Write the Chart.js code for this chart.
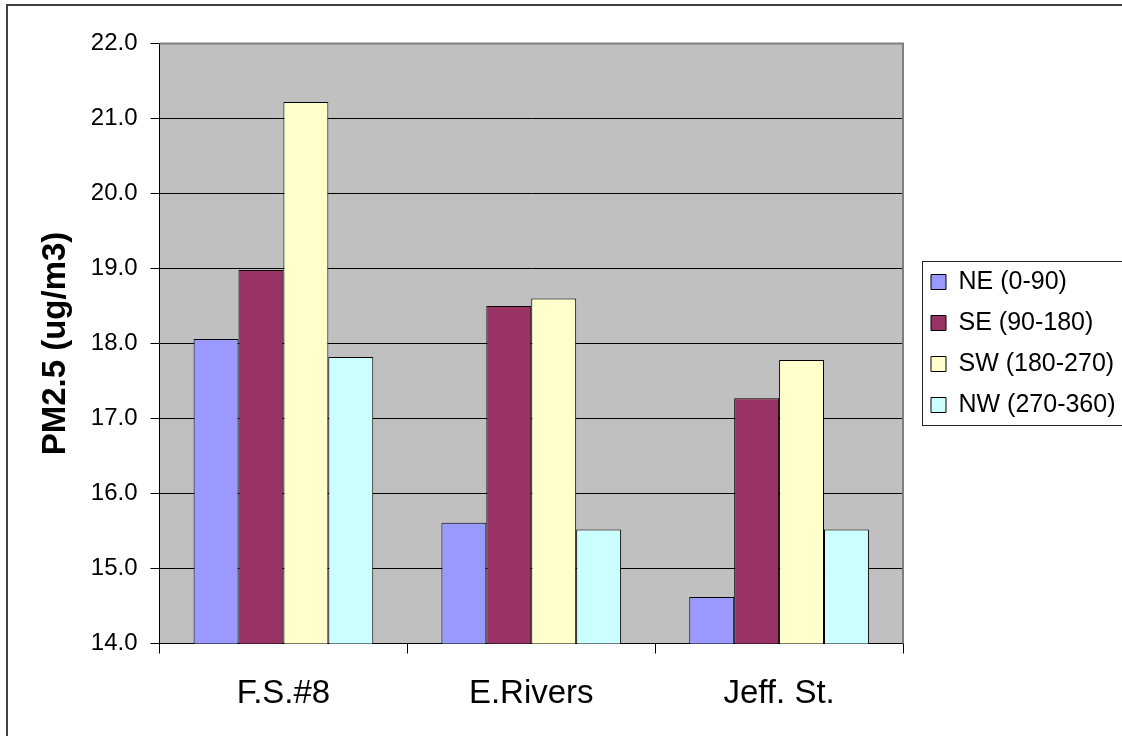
<!DOCTYPE html>
<html>
<head>
<meta charset="utf-8">
<script src="https://cdn.jsdelivr.net/npm/chart.js@4/dist/chart.umd.min.js"></script>
<style>
  html, body { margin: 0; padding: 0; background: #ffffff; }
  canvas { display: block; }
</style>
</head>
<body>
<canvas id="pm" width="1122" height="736"></canvas>
<script>
// Monitoring sites along the x axis
const categories = ['F.S.#8', 'E.Rivers', 'Jeff. St.'];

// Mean PM2.5 (ug/m3) by wind-direction sector
const seriesLabels = ['NE (0-90)', 'SE (90-180)', 'SW (180-270)', 'NW (270-360)'];
const ne = [18.06, 15.61, 14.62];
const se = [18.98, 18.50, 17.27];
const sw = [21.22, 18.60, 17.78];
const nw = [17.82, 15.52, 15.52];

// Value axis range and tick step
const yMin = 14;
const yMax = 22;
const yStep = 1;
const yTitle = 'PM2.5 (ug/m3)';

const FONT = "'Liberation Sans', Arial, sans-serif";

// Paints the grey plot background, the outer frame, the plot border and the legend box
const decorations = {
  id: 'decorations',
  afterLayout(chart, args, opts) {
    const lg = chart.legend;
    if (lg) { lg.left += opts.legendShift; lg.right += opts.legendShift; }
  },
  beforeDraw(chart) {
    const { ctx, chartArea: a } = chart;
    ctx.save();
    ctx.fillStyle = '#C0C0C0';
    ctx.fillRect(a.left, a.top, a.right - a.left, a.bottom - a.top);
    ctx.strokeStyle = '#404040';
    ctx.lineWidth = 2;
    ctx.strokeRect(7, 5, chart.width + 20, chart.height + 20);
    ctx.restore();
  },
  beforeDatasetsDraw(chart) {
    const { ctx, chartArea: a } = chart;
    ctx.save();
    ctx.strokeStyle = '#808080';
    ctx.lineWidth = 2;
    ctx.beginPath();
    ctx.moveTo(a.left, a.top);
    ctx.lineTo(a.right, a.top);
    ctx.lineTo(a.right, a.bottom);
    ctx.stroke();
    ctx.restore();
  },
  afterDraw(chart) {
    const hb = chart.legend && chart.legend.legendHitBoxes;
    if (!hb || !hb.length) return;
    const { ctx } = chart;
    const first = hb[0], last = hb[hb.length - 1];
    const x = Math.round(first.left - 9) + 0.5;
    const y = Math.round(first.top - 9) + 0.5;
    const bottom = Math.round(last.top + last.height + 7) + 0.5;
    ctx.save();
    ctx.strokeStyle = '#222222';
    ctx.lineWidth = 1;
    ctx.strokeRect(x, y, chart.width, bottom - y);
    ctx.restore();
  }
};

const mk = (label, data, color) => ({
  label, data,
  backgroundColor: color,
  borderColor: '#000000',
  borderWidth: 1,
  borderSkipped: 'start'
});

new Chart(document.getElementById('pm'), {
  type: 'bar',
  data: {
    labels: categories,
    datasets: [
      mk(seriesLabels[0], ne, '#9999FF'),
      mk(seriesLabels[1], se, '#993366'),
      mk(seriesLabels[2], sw, '#FFFFCC'),
      mk(seriesLabels[3], nw, '#CCFFFF')
    ]
  },
  options: {
    responsive: false,
    animation: false,
    devicePixelRatio: 1,
    layout: { padding: { left: 0, top: 43.5, right: 8.5, bottom: 0 } },
    datasets: { bar: { categoryPercentage: 0.725, barPercentage: 1 } },
    scales: {
      x: {
        afterFit(s) { s.height = 92.5; },
        grid: {
          offset: true,
          drawOnChartArea: false,
          drawTicks: true,
          tickLength: 10,
          tickColor: '#000000'
        },
        border: { display: true, color: '#000000', width: 1 },
        ticks: {
          color: '#000000',
          padding: 21,
          font: { family: FONT, size: 33 }
        }
      },
      y: {
        min: yMin,
        max: yMax,
        afterFit(s) { s.width = 159.5; },
        grid: {
          color: (c) => (c.tick && c.tick.value === yMax ? 'rgba(0,0,0,0)' : '#000000'),
          lineWidth: 1,
          tickLength: 9,
          tickColor: '#000000'
        },
        border: { display: true, color: '#000000', width: 1 },
        ticks: {
          stepSize: yStep,
          color: '#000000',
          padding: 13,
          font: { family: FONT, size: 24 },
          callback: (v) => Number(v).toFixed(1)
        },
        title: {
          display: true,
          text: yTitle,
          color: '#000000',
          padding: { top: 36, bottom: 0 },
          font: { family: FONT, size: 33, weight: 'bold' }
        }
      }
    },
    plugins: {
      decorations: { legendShift: 12 },
      tooltip: { enabled: false },
      legend: {
        position: 'right',
        align: 'center',
        fullSize: false,
        labels: {
          color: '#000000',
          boxWidth: 15,
          boxHeight: 15,
          padding: 16,
          font: { family: FONT, size: 25 }
        }
      }
    }
  },
  plugins: [decorations]
});
</script>
</body>
</html>
